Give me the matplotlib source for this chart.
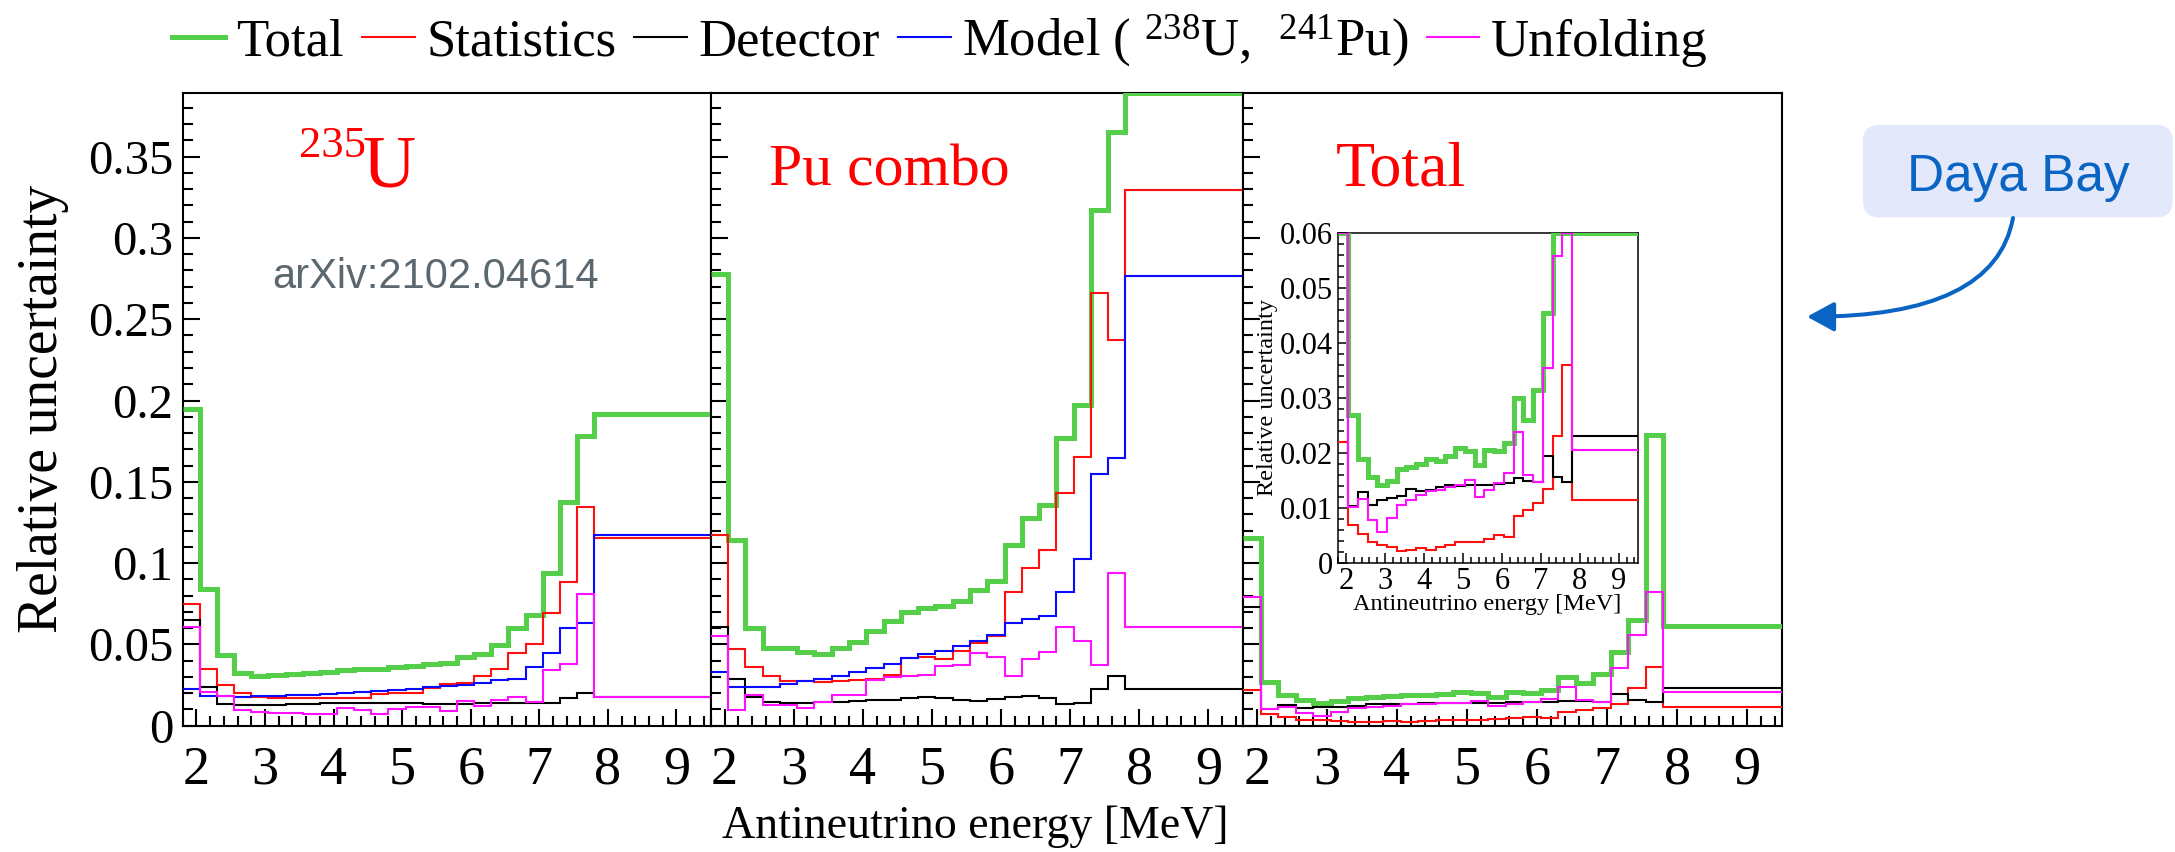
import numpy as np
import matplotlib
matplotlib.use('Agg')
import matplotlib.pyplot as plt
from matplotlib.ticker import MultipleLocator, FuncFormatter
from matplotlib.lines import Line2D
from matplotlib.patches import FancyBboxPatch, FancyArrowPatch
from matplotlib.path import Path
from matplotlib.transforms import IdentityTransform

plt.rcParams['font.family'] = ['Liberation Serif', 'DejaVu Serif']
plt.rcParams['mathtext.fontset'] = 'custom'
plt.rcParams['mathtext.rm'] = 'Liberation Serif'
plt.rcParams['mathtext.it'] = 'Liberation Serif:italic'
plt.rcParams['mathtext.bf'] = 'Liberation Serif:bold'

# ---------------- data ----------------
bin_edges = [1.8, 2.05, 2.3, 2.55, 2.8, 3.05, 3.3, 3.55, 3.8, 4.05, 4.3, 4.55, 4.8,
             5.05, 5.3, 5.55, 5.8, 6.05, 6.3, 6.55, 6.8, 7.05, 7.3, 7.55, 7.8, 12.0]

u235_total = [0.195, 0.084, 0.0435, 0.0322, 0.0307, 0.031, 0.0315, 0.0322, 0.0328, 0.034,
              0.0346, 0.035, 0.036, 0.037, 0.0378, 0.0388, 0.042, 0.0438, 0.0496, 0.060,
              0.068, 0.0937, 0.1378, 0.178, 0.192]
u235_stat = [0.075, 0.035, 0.025, 0.020, 0.0175, 0.017, 0.0168, 0.0168, 0.0168, 0.0172,
             0.0172, 0.0195, 0.020, 0.020, 0.023, 0.0255, 0.026, 0.0303, 0.0346, 0.0445,
             0.050, 0.0695, 0.0886, 0.1347, 0.1152]
u235_det = [0.065, 0.024, 0.0135, 0.013, 0.013, 0.013, 0.0133, 0.0135, 0.0137, 0.0138,
            0.014, 0.014, 0.014, 0.0138, 0.0135, 0.0133, 0.0135, 0.0138, 0.014, 0.014,
            0.014, 0.0138, 0.0168, 0.020, 0.0175]
u235_model = [0.0223, 0.018, 0.018, 0.0178, 0.018, 0.0183, 0.0187, 0.019, 0.0195, 0.020,
              0.021, 0.0215, 0.0222, 0.0225, 0.0235, 0.0245, 0.025, 0.0264, 0.028, 0.029,
              0.0363, 0.0445, 0.060, 0.063, 0.1173]
u235_unfold = [0.061, 0.021, 0.018, 0.0096, 0.0086, 0.008, 0.008, 0.0072, 0.0072, 0.011,
               0.0096, 0.0072, 0.010, 0.0117, 0.0117, 0.0092, 0.015, 0.012, 0.0158, 0.0174,
               0.0148, 0.034, 0.038, 0.081, 0.0174]

pu_total = [0.278, 0.114, 0.0598, 0.0476, 0.0476, 0.0452, 0.044, 0.0476, 0.0515, 0.0582,
            0.0643, 0.0698, 0.0722, 0.0738, 0.0766, 0.0836, 0.0892, 0.111, 0.128, 0.136,
            0.177, 0.197, 0.317, 0.365, 0.39]
pu_stat = [0.117, 0.047, 0.036, 0.0305, 0.0277, 0.0277, 0.0267, 0.0272, 0.028, 0.0285,
           0.031, 0.0414, 0.0424, 0.041, 0.046, 0.0506, 0.055, 0.0825, 0.0968, 0.108,
           0.143, 0.165, 0.266, 0.237, 0.3296]
pu_det = [0.061, 0.029, 0.0178, 0.0148, 0.0137, 0.0137, 0.0145, 0.0148, 0.0152, 0.0155,
          0.0158, 0.0168, 0.0174, 0.0168, 0.0158, 0.0152, 0.0162, 0.0178, 0.0185, 0.0168,
          0.0135, 0.014, 0.0226, 0.0303, 0.0223]
pu_model = [0.0328, 0.024, 0.024, 0.024, 0.0256, 0.0277, 0.0287, 0.0305, 0.0332, 0.0353,
            0.0377, 0.0414, 0.0439, 0.046, 0.0492, 0.052, 0.0556, 0.063, 0.0657, 0.0675,
            0.082, 0.1028, 0.1547, 0.1648, 0.2764]
pu_unfold = [0.055, 0.0096, 0.0189, 0.0127, 0.0127, 0.0107, 0.0148, 0.0189, 0.0189, 0.028,
             0.030, 0.0305, 0.031, 0.0367, 0.0372, 0.0445, 0.042, 0.0306, 0.041, 0.0452,
             0.0609, 0.0518, 0.0372, 0.0942, 0.0607]

tot_total = [0.1154, 0.027, 0.0189, 0.0157, 0.0142, 0.015, 0.0171, 0.0174, 0.0181, 0.019,
             0.0186, 0.0195, 0.0209, 0.0203, 0.0178, 0.0206, 0.0204, 0.0219, 0.030, 0.026,
             0.0315, 0.0455, 0.065, 0.179, 0.0613]
tot_stat = [0.0221, 0.007, 0.0054, 0.0038, 0.0033, 0.003, 0.0022, 0.0024, 0.0027, 0.0024,
            0.0029, 0.0033, 0.0038, 0.0038, 0.0039, 0.0045, 0.0051, 0.0048, 0.0085, 0.0097,
            0.0109, 0.0134, 0.0231, 0.036, 0.0115]
tot_det = [0.073, 0.0104, 0.013, 0.0106, 0.0115, 0.0118, 0.0122, 0.0134, 0.0132, 0.0133,
           0.0139, 0.0142, 0.014, 0.0142, 0.0142, 0.0143, 0.0144, 0.0145, 0.0154, 0.015,
           0.0148, 0.0194, 0.0157, 0.0148, 0.0231]
tot_unfold = [0.079, 0.0103, 0.0116, 0.0079, 0.0057, 0.0082, 0.0106, 0.0115, 0.0124, 0.0132,
              0.0133, 0.0139, 0.0142, 0.0151, 0.012, 0.0133, 0.0145, 0.0163, 0.0239, 0.016,
              0.0148, 0.0354, 0.0558, 0.082, 0.0206]

panel_titles = ['U', 'Pu combo', 'Total']
legend_labels = ['Total', 'Statistics', 'Detector', 'Model ( $^{238}$U,  $^{241}$Pu)', 'Unfolding']

# ---------------- style ----------------
C_TOT, C_STAT, C_DET, C_MOD, C_UNF = '#55cf4a', '#ff1010', '#000000', '#0a0aff', '#ff10ff'
LW_TOT, LW_THIN = 3.6, 1.5
W, H = 2175, 852

def fx(px):
    return px / W

def fy(py):
    return 1 - py / H

fig = plt.figure(figsize=(W / 100, H / 100), dpi=100)
fig.patch.set_facecolor('white')

xs = [182.7, 710.7, 1243.0, 1782.0]
top_px, bot_px = 92.7, 725.7
YMAX = 0.3893
axes = []
for i in range(3):
    ax = fig.add_axes([fx(xs[i]), fy(bot_px), fx(xs[i + 1]) - fx(xs[i]), (bot_px - top_px) / H])
    axes.append(ax)

fmt = FuncFormatter(lambda v, p: '%g' % round(v, 4))

def style_axes(ax, ymax, ymaj, ymin, lsize_x, lsize_y, maj_len, min_len, lw, xpad, ypad, showy):
    ax.set_xlim(1.8, 9.5)
    ax.set_ylim(0, ymax)
    ax.xaxis.set_major_locator(MultipleLocator(1))
    ax.xaxis.set_minor_locator(MultipleLocator(0.2))
    ax.yaxis.set_major_locator(MultipleLocator(ymaj))
    ax.yaxis.set_minor_locator(MultipleLocator(ymin))
    ax.xaxis.set_major_formatter(fmt)
    ax.yaxis.set_major_formatter(fmt)
    ax.tick_params(which='both', direction='in', top=False, right=False, width=lw)
    ax.tick_params(which='major', length=maj_len)
    ax.tick_params(which='minor', length=min_len)
    ax.tick_params(axis='x', labelsize=lsize_x, pad=xpad)
    ax.tick_params(axis='y', labelsize=lsize_y, pad=ypad, labelleft=showy)
    for s in ax.spines.values():
        s.set_linewidth(lw)
        s.set_zorder(2.5)

def draw(ax, series, ymax):
    for vals, col, lw in series:
        ax.stairs(np.minimum(np.array(vals), ymax), bin_edges, baseline=None,
                  color=col, lw=lw, zorder=3)

panel_series = [
    [(u235_total, C_TOT, LW_TOT), (u235_stat, C_STAT, LW_THIN), (u235_det, C_DET, LW_THIN),
     (u235_model, C_MOD, LW_THIN), (u235_unfold, C_UNF, LW_THIN)],
    [(pu_total, C_TOT, LW_TOT), (pu_stat, C_STAT, LW_THIN), (pu_det, C_DET, LW_THIN),
     (pu_model, C_MOD, LW_THIN), (pu_unfold, C_UNF, LW_THIN)],
    [(tot_total, C_TOT, LW_TOT), (tot_stat, C_STAT, LW_THIN), (tot_det, C_DET, LW_THIN),
     (tot_unfold, C_UNF, LW_THIN)],
]

for i, ax in enumerate(axes):
    style_axes(ax, YMAX, 0.05, 0.01, 39, 35, 12, 7, 1.5, 14, 6.8, i == 0)
    draw(ax, panel_series[i], YMAX)

# inset
axin = fig.add_axes([fx(1338.3), fy(563.3), fx(1638.3) - fx(1338.3), (563.3 - 232.7) / H])
style_axes(axin, 0.06, 0.01, 0.002, 22, 22, 7, 4, 1.1, 2.5, 3.6, True)
draw(axin, panel_series[2], 0.06)
fig.text(fx(1487.5), fy(610), 'Antineutrino energy [MeV]', ha='center', va='baseline', fontsize=17.5)
fig.text(fx(1268), fy(398), 'Relative uncertainty', ha='center', va='center', rotation=90, fontsize=17.5)

# axis labels
fig.text(fx(975), fy(838.3), 'Antineutrino energy [MeV]', ha='center', va='baseline', fontsize=33)
fig.text(fx(43), fy(408.5), 'Relative uncertainty', ha='center', va='center', rotation=90, fontsize=40)

# panel titles
fig.text(fx(299), fy(156.7), '235', ha='left', va='baseline', fontsize=32, color='red')
fig.text(fx(362), fy(186.5), panel_titles[0], ha='left', va='baseline', fontsize=53, color='red')
fig.text(fx(769), fy(185.5), panel_titles[1], ha='left', va='baseline', fontsize=43, color='red')
fig.text(fx(1336), fy(186), panel_titles[2], ha='left', va='baseline', fontsize=46, color='red')

fig.text(fx(272), fy(287.5), 'arXiv:2102.04614', ha='left', va='baseline', fontsize=30,
         color='#5c6870', family=['Liberation Sans', 'DejaVu Sans'])

# legend
handles = [Line2D([], [], color=C_TOT, lw=LW_TOT), Line2D([], [], color=C_STAT, lw=LW_THIN),
           Line2D([], [], color=C_DET, lw=LW_THIN), Line2D([], [], color=C_MOD, lw=LW_THIN),
           Line2D([], [], color=C_UNF, lw=LW_THIN)]
fig.legend(handles, legend_labels, loc='center left', bbox_to_anchor=(fx(172), fy(41)),
           ncol=5, frameon=False, fontsize=38, handlelength=1.0, handletextpad=0.22,
           columnspacing=0.34, borderpad=0, borderaxespad=0)

# Daya Bay callout
box = FancyBboxPatch((1863, H - 217.3), 309.7, 92.3, boxstyle='round,pad=0,rounding_size=16',
                     transform=IdentityTransform(), fc='#e3e8fb', ec='none')
fig.add_artist(box)
fig.text(fx(1906.7), fy(190.7), 'Daya Bay', ha='left', va='baseline', fontsize=37,
         color='#0a64c4', family=['Liberation Sans', 'DejaVu Sans'])
arrow_path = Path([(2013, H - 218), (1995, H - 317), (1807, H - 316.7)],
                  [Path.MOVETO, Path.CURVE3, Path.CURVE3])
arrow = FancyArrowPatch(path=arrow_path, arrowstyle='-|>,head_length=1.1,head_width=0.6',
                        mutation_scale=15, lw=2.9, color='#0a64c4',
                        transform=IdentityTransform())
fig.add_artist(arrow)

fig.savefig('out.png', dpi=100)
